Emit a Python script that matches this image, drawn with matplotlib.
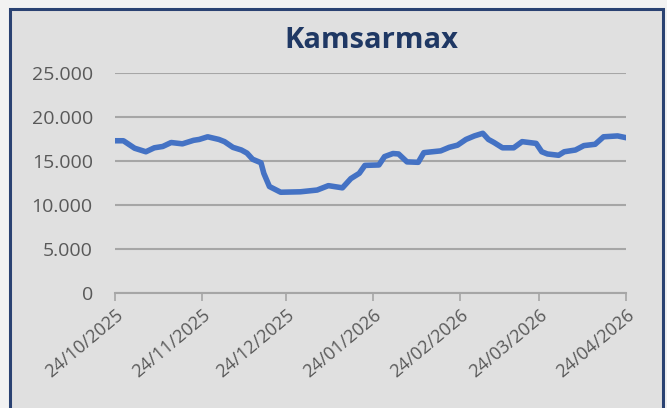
import numpy as np
import pandas as pd
import matplotlib.pyplot as plt
import matplotlib.dates as mdates
from matplotlib.patches import Rectangle

# Kamsarmax rates, day offsets from 24/10/2025
start = pd.Timestamp('2025-10-24')
days = [0, 3, 7, 11, 14, 17, 20, 24, 28, 30, 33, 37, 39, 42, 45, 47, 49, 52, 53, 55,
        59, 66, 72, 76, 81, 84, 87, 89, 94, 96, 99, 101, 104, 108, 110, 113, 116, 119,
        122, 125, 128, 131, 133, 135, 138, 142, 145, 150, 152, 154, 158, 160, 164, 167,
        171, 174, 179, 182]
rates = [17300, 17300, 16450, 16050, 16500, 16650, 17100, 16950, 17350, 17450, 17750,
         17450, 17200, 16550, 16250, 15900, 15200, 14800, 13600, 12100, 11450, 11500,
         11700, 12200, 11950, 13000, 13600, 14500, 14550, 15500, 15850, 15800, 14900,
         14850, 15950, 16050, 16150, 16550, 16800, 17450, 17850, 18150, 17450, 17100,
         16500, 16500, 17200, 17000, 16050, 15800, 15650, 16050, 16250, 16750, 16900,
         17750, 17850, 17650]
dates = [start + pd.Timedelta(days=d) for d in days]
tick_dates = pd.to_datetime(['2025-10-24', '2025-11-24', '2025-12-24', '2026-01-24',
                             '2026-02-24', '2026-03-24', '2026-04-24'])
yticks = [0, 5000, 10000, 15000, 20000, 25000]
ylabels = ['0', '5.000', '10.000', '15.000', '20.000', '25.000']

plt.rcParams['font.family'] = ['Open Sans', 'DejaVu Sans']

fig = plt.figure(figsize=(6.67, 4.08), dpi=100, facecolor='#f2f2f2')
# chart frame
fig.patches.append(Rectangle((10/667, -0.05), 653/667, 1.05 - 9/408, transform=fig.transFigure,
                             facecolor='#e0e0e0', edgecolor='#2a4272', lw=2.2, zorder=-5))

ax = fig.add_axes([115/667, 1-293/408, 511/667, 220/408])
ax.set_facecolor('none')
ax.plot(dates, rates, color='#4472c4', lw=4, solid_joinstyle='round', zorder=3)

ax.set_ylim(0, 25000)
ax.set_xlim(tick_dates[0], tick_dates[-1])
ax.set_yticks(yticks)
ax.set_yticklabels(ylabels, fontsize=14, color='#595959')
ax.set_xticks(tick_dates)
ax.set_xticklabels([d.strftime('%d/%m/%Y') for d in tick_dates], fontsize=13, color='#595959',
                   rotation=40, ha='right', va='top', rotation_mode='anchor')
ax.grid(axis='y', color='#a6a6a6', lw=1.5)
ax.tick_params(axis='y', length=0, pad=16)
ax.tick_params(axis='x', length=6, color='#a6a6a6', width=1.2, pad=3)
for s in ['top', 'right', 'left']:
    ax.spines[s].set_visible(False)
ax.spines['bottom'].set_color('#a6a6a6')
ax.spines['bottom'].set_linewidth(1.5)

fig.text(371/667, 1-40/408, 'Kamsarmax', ha='center', va='center', fontsize=21,
         fontweight='bold', color='#1f3864')

fig.savefig('out.png', dpi=100, facecolor=fig.get_facecolor())
